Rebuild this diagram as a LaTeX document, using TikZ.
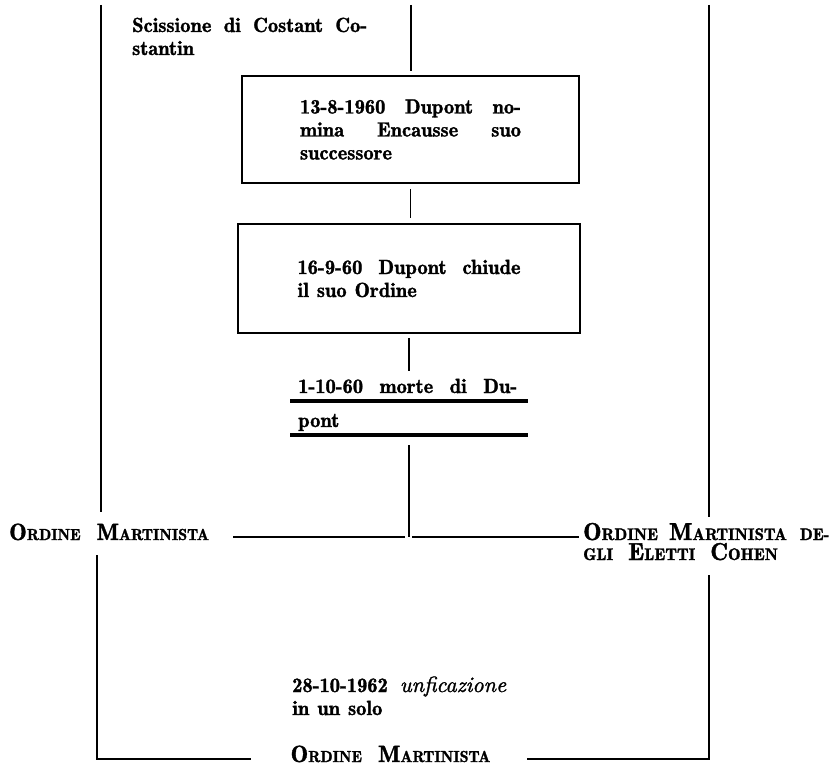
\documentclass[tikz,border=0pt]{standalone}
\usepackage{fontspec}
\setmainfont{lmromandemi10-regular}[Extension=.otf, ItalicFont=lmroman10-italic, FakeBold=1.5]
\newcommand\capsm[2]{{\fontsize{23.5pt}{20pt}\selectfont #1}{\fontsize{16pt}{20pt}\selectfont #2}}
\newcommand\capsr[2]{{\fontsize{24.5pt}{21pt}\selectfont #1}{\fontsize{16.8pt}{21pt}\selectfont #2}}
\tikzset{
  ln/.style={line width=1.6pt, line cap=butt},
  thickrule/.style={line width=3.5pt},
  txt/.style={inner sep=0pt, anchor=base west, font=\fontsize{20.5pt}{23pt}\selectfont},
  evbox/.style={draw, line width=1.6pt, inner sep=0pt, align=left, font=\fontsize{20.5pt}{23pt}\selectfont},
  head/.style={inner sep=0pt, anchor=base west, font=\fontsize{16pt}{20pt}\selectfont},
}
\begin{document}
\begin{tikzpicture}[x=1pt,y=-1pt]
\useasboundingbox (0,0) rectangle (840,768);
% coordinates
\coordinate (TC) at (411,5);
\coordinate (TL) at (101,5);
\coordinate (TR) at (709,5);
\coordinate (BL) at (97,759);
\coordinate (BR) at (709,759);
\coordinate (J) at (409,537);
% text nodes
\node[txt, text width=240pt, align=left] (scis) at (132,32)
  {\makebox[235pt][l]{Scissione\hfill di\hfill Costant\hfill Co-}\\stantin};
\node[evbox, minimum width=337pt, minimum height=107pt, text width=221pt] (box1) at (410.5,129.5)
  {\makebox[221pt][l]{13-8-1960\hfill Dupont\hfill no-}\\\makebox[221pt][l]{mina\hfill Encausse\hfill suo}\\successore};
\node[evbox, minimum width=342pt, minimum height=109pt, text width=223pt] (box2) at (409,278.5)
  {\makebox[223pt][l]{16-9-60\hfill Dupont\hfill chiude}\\il\hspace{8pt}suo\hspace{8pt}Ordine};
\node[txt] (death) at (298,393) {\makebox[219pt][l]{1-10-60\hfill morte\hfill di\hfill Du-}};
\node[txt] (death2) at (298,427) {pont};
\node[head] (ordL) at (9,540) {\capsm{O}{RDINE}\hspace{16pt}\capsm{M}{ARTINISTA}};
\node[head, text width=258pt, align=left] (ordR) at (583,540)
  {\capsr{O}{RDINE}\hspace{11pt}\capsr{M}{ARTINISTA}\hspace{13pt}\capsr{}{DE-}\\\capsr{}{GLI}\hspace{15pt}\capsr{E}{LETTI}\hspace{15pt}\capsr{C}{OHEN}};
\node[txt, text width=240pt, align=left] (unif) at (292,692)
  {28-10-1962\hspace{12pt}{\fontsize{22pt}{23pt}\selectfont\itshape unficazione}\\in\hspace{8pt}un\hspace{8pt}solo};
\node[head, anchor=base] (ordB) at (390.5,762) {\capsm{O}{RDINE}\hspace{16pt}\capsm{M}{ARTINISTA}};
% rules under the death note
\draw[thickrule] ([shift={(-8,8)}]death.base west) -- ([shift={(230,8)}]death.base west);
\draw[thickrule] ([shift={(-8,8)}]death2.base west) -- ([shift={(230,8)}]death2.base west);
% connectors
\draw[ln, shorten >=4pt] (TC) -- (TC |- box1.north);
\draw[ln, shorten <=5pt, shorten >=5pt] (box1.south) -- (box1.south |- box2.north);
\draw[ln, shorten <=4pt, shorten >=8pt] (box2.south) -- (box2.south |- death.north);
\draw[ln, shorten <=14pt] (J |- death2.south) -- (J);
\draw[ln, shorten <=24pt, shorten >=4pt] (J -| ordL.east) -- (J);
\draw[ln, shorten <=3pt, shorten >=4pt] (J) -- (J -| ordR.west);
\draw[ln, shorten >=11pt] (TL) -- (TL |- ordL.north);
\draw[ln, shorten <=15pt, shorten >=39pt] (BL |- ordL.south) -- (BL) -- (BL -| ordB.west);
\draw[ln, shorten >=6pt] (TR) -- (TR |- ordR.north);
\draw[ln, shorten <=15pt, shorten >=36pt] (TR |- ordR.south) -- (BR) -- (BR -| ordB.east);
\end{tikzpicture}
\end{document}
